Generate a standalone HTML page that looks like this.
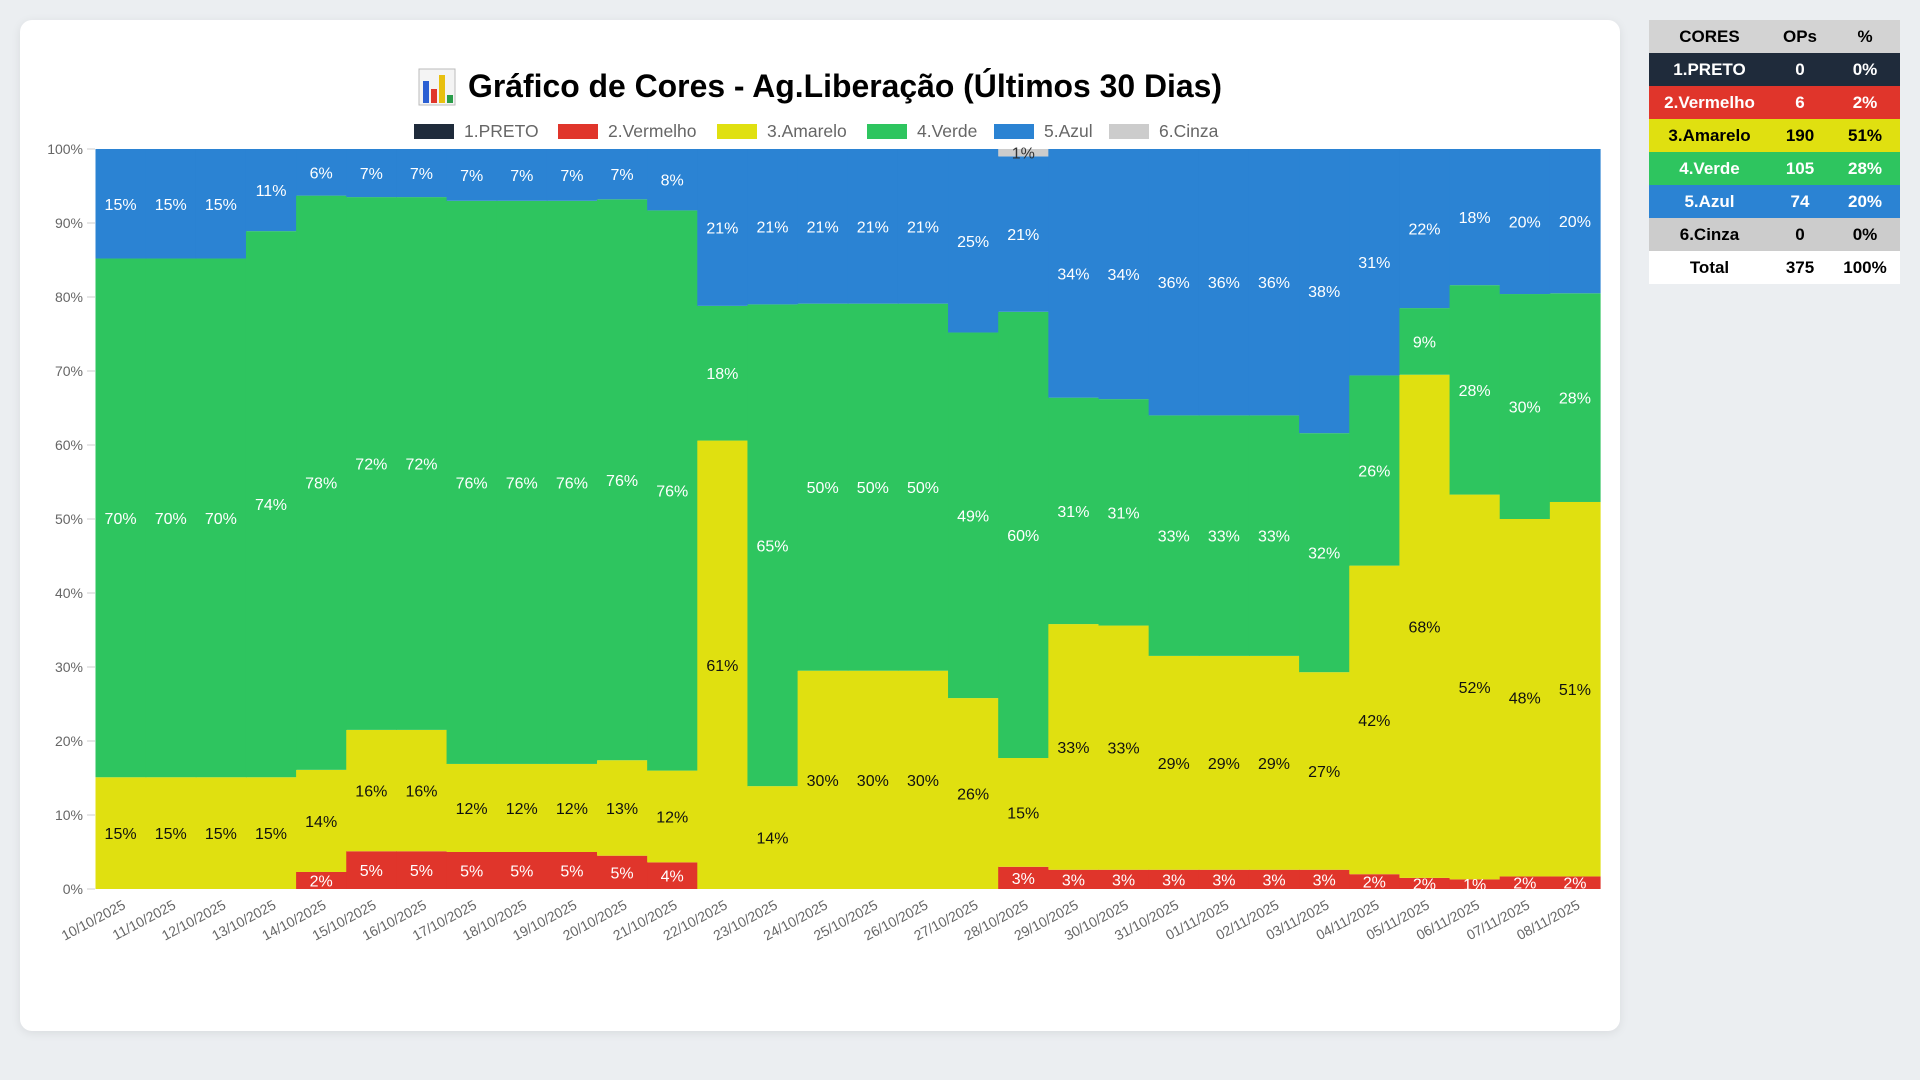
<!DOCTYPE html>
<html><head><meta charset="utf-8">
<style>
html,body{margin:0;padding:0;width:1920px;height:1080px;background:#ebeef1;overflow:hidden;font-family:"Liberation Sans",Arial,sans-serif;}
#card{position:absolute;left:20px;top:20px;width:1600px;height:1011px;background:#fff;border-radius:12px;box-shadow:0 2px 10px rgba(0,0,0,0.08);}
#chart{position:absolute;left:0;top:0;}
#tbl{position:absolute;left:1649px;top:20px;width:251px;border-collapse:collapse;font-weight:bold;font-size:17px;}
#tbl td,#tbl th{height:33px;padding:0;text-align:center;}
</style></head><body>
<div id="card"></div>
<svg id="chart" width="1920" height="1080"></svg>
<table id="tbl">
<tr style="background:#d3d3d3;color:#000"><th style="width:121px">CORES</th><th style="width:60px">OPs</th><th>%</th></tr>
<tr style="background:#1f2b3b;color:#fff"><td>1.PRETO</td><td>0</td><td>0%</td></tr>
<tr style="background:#e0352b;color:#fff"><td>2.Vermelho</td><td>6</td><td>2%</td></tr>
<tr style="background:#e0e010;color:#000"><td>3.Amarelo</td><td>190</td><td>51%</td></tr>
<tr style="background:#2ec55f;color:#fff"><td>4.Verde</td><td>105</td><td>28%</td></tr>
<tr style="background:#2b83d3;color:#fff"><td>5.Azul</td><td>74</td><td>20%</td></tr>
<tr style="background:#cccccc;color:#000"><td>6.Cinza</td><td>0</td><td>0%</td></tr>
<tr style="background:#fff;color:#000"><td>Total</td><td>375</td><td>100%</td></tr>
</table>
<script>
const categories=["10/10/2025","11/10/2025","12/10/2025","13/10/2025","14/10/2025","15/10/2025","16/10/2025","17/10/2025","18/10/2025","19/10/2025","20/10/2025","21/10/2025","22/10/2025","23/10/2025","24/10/2025","25/10/2025","26/10/2025","27/10/2025","28/10/2025","29/10/2025","30/10/2025","31/10/2025","01/11/2025","02/11/2025","03/11/2025","04/11/2025","05/11/2025","06/11/2025","07/11/2025","08/11/2025"];
const seriesNames=["1.PRETO","2.Vermelho","3.Amarelo","4.Verde","5.Azul","6.Cinza"];
const preto=[0,0,0,0,0,0,0,0,0,0,0,0,0,0,0,0,0,0,0,0,0,0,0,0,0,0,0,0,0,0];
const vermelho=[0,0,0,0,2.3,5.1,5.1,5,5,5,4.5,3.6,0,0,0,0,0,0,3,2.6,2.6,2.6,2.6,2.6,2.6,2,1.5,1.3,1.7,1.7];
const amarelo=[15.1,15.1,15.1,15.1,13.8,16.4,16.4,11.9,11.9,11.9,12.9,12.4,60.6,13.9,29.5,29.5,29.5,25.8,14.7,33.2,33,28.9,28.9,28.9,26.7,41.7,68,52,48.3,50.6];
const verde=[70.1,70.1,70.1,73.8,77.6,72,72,76.1,76.1,76.1,75.8,75.7,18.2,65.1,49.6,49.6,49.6,49.4,60.3,30.6,30.6,32.5,32.5,32.5,32.3,25.7,9,28.3,30.4,28.2];
const azul=[14.8,14.8,14.8,11.1,6.3,6.5,6.5,7,7,7,6.8,8.3,21.2,21,20.9,20.9,20.9,24.8,21,33.6,33.8,36,36,36,38.4,30.6,21.5,18.4,19.6,19.5];
const cinza=[0,0,0,0,0,0,0,0,0,0,0,0,0,0,0,0,0,0,1,0,0,0,0,0,0,0,0,0,0,0];
const yTicks=[0,10,20,30,40,50,60,70,80,90,100];
const colors=["#1f2b3b","#e0352b","#e0e010","#2ec55f","#2b83d3","#cccccc"];
const labelColors=["#fff","#fff","#111","#fff","#fff","#333"];
const series=[preto,vermelho,amarelo,verde,azul,cinza];

const NS="http://www.w3.org/2000/svg";
const svg=document.getElementById('chart');
const X0=95.5,X1=1600,Y0=889,Y1=149;
const bw=(X1-X0)/categories.length;
function xScale(i){return X0+i*bw;}
function yScale(v){return Y0-(Y0-Y1)*v/100;}
function mk(tag,attrs,parent){const e=document.createElementNS(NS,tag);for(const k in attrs)e.setAttribute(k,attrs[k]);(parent||svg).appendChild(e);return e;}

const tg=mk('g',{});


const icon=mk('g',{},tg);


mk('rect',{x:419,y:69,width:36,height:36,fill:'#f4f4f4',stroke:'#bbb'},icon);
mk('rect',{x:423,y:81,width:6,height:22,fill:'#2b5fd3'},icon);
mk('rect',{x:431,y:89,width:6,height:14,fill:'#e0352b'},icon);
mk('rect',{x:439,y:75,width:6,height:28,fill:'#e8c010'},icon);
mk('rect',{x:447,y:95,width:6,height:8,fill:'#2a9d4a'},icon);
const tt=mk('text',{x:468,y:97,'font-size':32,'font-weight':'bold',fill:'#000','font-family':'Liberation Sans, sans-serif',textLength:754,lengthAdjust:'spacingAndGlyphs'},tg);
tt.textContent="Gráfico de Cores - Ag.Liberação (Últimos 30 Dias)";



const legX=[414,558,717,867,994,1109];
seriesNames.forEach((n,i)=>{
  const g=mk('g',{});
  
  
  mk('rect',{x:legX[i],y:124,width:40,height:15,fill:colors[i]},g);
  const t=mk('text',{x:legX[i]+50,y:137,'font-size':17.5,fill:'#666'},g);
  t.textContent=n;
});

yTicks.forEach(v=>{
  const t=mk('text',{x:83,y:yScale(v)+5,'font-size':14,fill:'#666','text-anchor':'end'});
  t.textContent=v+'%';
  
  
  mk('line',{x1:87,x2:95,y1:yScale(v),y2:yScale(v),stroke:'#ccc'});
});

categories.forEach((c,i)=>{
  let base=0;
  series.forEach((s,k)=>{
    const v=s[i];
    if(v>0){
      const r=mk('rect',{x:xScale(i),y:yScale(base+v),width:bw+0.6,height:yScale(base)-yScale(base+v),fill:colors[k]});
      
      
    }
    base+=v;
  });
});
categories.forEach((c,i)=>{
  let base=0;
  series.forEach((s,k)=>{
    const v=s[i];
    if(v>0){
      let cy=(yScale(base)+yScale(base+v))/2+6;
      if(k===5) cy=yScale(base)+2;
      const t=mk('text',{x:xScale(i)+bw/2,y:cy,'font-size':16,fill:labelColors[k],'text-anchor':'middle'});
      t.textContent=Math.round(v)+'%';
      
      
    }
    base+=v;
  });
  const cx=xScale(i)+bw/2+6;
  const xl=mk('text',{x:cx,y:Y0+19,'font-size':14,fill:'#666','text-anchor':'end',transform:`rotate(-28 ${cx} ${Y0+19})`});
  xl.textContent=c;
  
  
});
</script>
</body></html>
